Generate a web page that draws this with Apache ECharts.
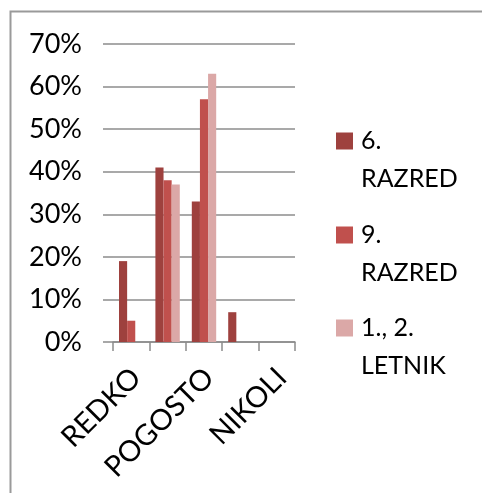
<!DOCTYPE html>
<html>
<head>
<meta charset="utf-8">
<script src="https://cdn.jsdelivr.net/npm/echarts@6/dist/echarts.min.js"></script>
<style>
  html, body { margin: 0; padding: 0; background: #fff; }
  #chart { width: 482px; height: 493px; }
</style>
</head>
<body>
<div id="chart"></div>
<script>
// Answer categories (only every second one carries a visible label)
const categories = ['REDKO', 'VČASIH', 'POGOSTO', 'ZELO POGOSTO', 'NIKOLI'];
// Share of answers per group, in percent
const razred6 = [19, 41, 33, 7, 0];
const razred9 = [5, 38, 57, 0, 0];
const letnik12 = [0, 37, 63, 0, 0];
const seriesNames = ['6. RAZRED', '9. RAZRED', '1., 2. LETNIK'];
const seriesColors = ['#9E413E', '#C0504D', '#DBA8A7'];
const yTicks = { min: 0, max: 70, step: 10 };

const FONT = 'Lato, "Open Sans", sans-serif';
const GRID_GRAY = '#8c8c8c';

const chart = echarts.init(document.getElementById('chart'), null, { renderer: 'canvas' });

const values = [razred6, razred9, letnik12];
const legendTops = [84, 178, 271];

// Legend text: the name is split on its last space; an empty leading line
// keeps the first text line level with the colour square.
const legendText = n => '\u00a0\n' + n.replace(/ (?=\S+$)/, '\n');
// Category labels get an empty line above them, nudging the slanted text
// a little away from its tick.
const categoryText = v => '\u00a0\n' + v;

const option = {
  backgroundColor: '#fff',
  animation: false,
  graphic: [{
    type: 'rect',
    shape: { x: 10.5, y: 11.5, width: 800, height: 800 },
    style: { fill: 'none', stroke: '#9a9a9a', lineWidth: 2 },
    silent: true
  }],
  grid: { left: 113, right: 187, top: 44, bottom: 151 },
  legend: seriesNames.map((name, i) => ({
    data: [name],
    left: 336,
    top: legendTops[i],
    padding: 0,
    orient: 'vertical',
    itemWidth: 23,
    itemHeight: 17,
    // square marker; the wider item box leaves room before the text
    icon: 'path://M0,0H17V17H0Z',
    symbolKeepAspect: true,
    selectedMode: false,
    formatter: legendText,
    textStyle: {
      fontFamily: FONT, fontSize: 25, color: '#000', lineHeight: 38
    }
  })),
  xAxis: {
    type: 'category',
    data: categories,
    axisLine: { lineStyle: { color: GRID_GRAY, width: 1.5 } },
    axisTick: { show: true, interval: 0, length: 9, lineStyle: { color: GRID_GRAY, width: 1.5 } },
    axisLabel: {
      interval: 1, rotate: 45, margin: 26, lineHeight: 14,
      formatter: categoryText,
      fontFamily: FONT, fontSize: 29, color: '#000'
    }
  },
  yAxis: {
    type: 'value',
    min: yTicks.min, max: yTicks.max, interval: yTicks.step,
    axisLine: { show: false },
    axisTick: { show: true, length: 10, lineStyle: { color: GRID_GRAY, width: 1.5 } },
    splitLine: { lineStyle: { color: GRID_GRAY, width: 1.5 } },
    axisLabel: {
      formatter: '{value}%', margin: 31,
      fontFamily: FONT, fontSize: 27, color: '#000'
    }
  },
  series: seriesNames.map((name, i) => ({
    name,
    type: 'bar',
    data: values[i],
    barGap: '0%',
    barCategoryGap: '33%',
    itemStyle: { color: seriesColors[i] }
  }))
};

chart.setOption(option);
</script>
</body>
</html>
